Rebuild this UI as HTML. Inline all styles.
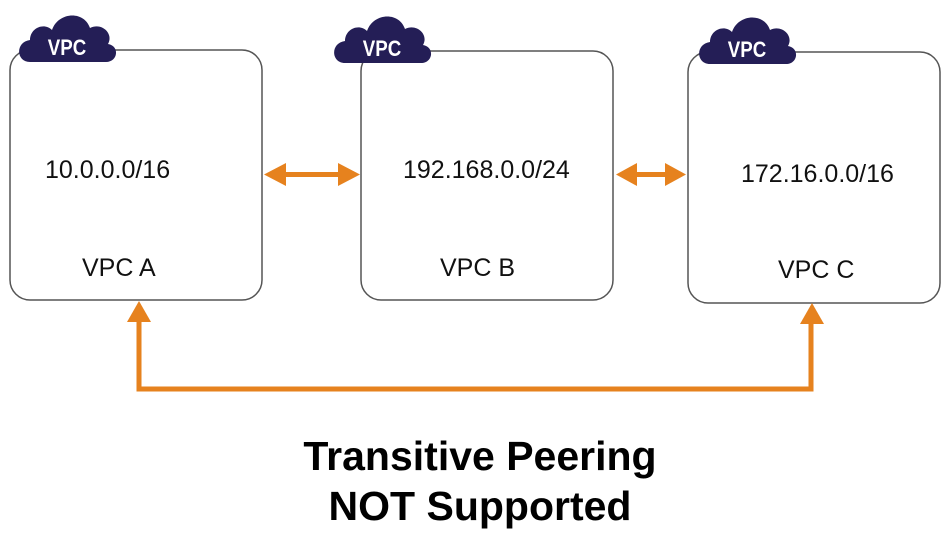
<!DOCTYPE html>
<html><head><meta charset="utf-8"><style>
html,body{margin:0;padding:0;background:#fff;}
svg{display:block;}
text{font-family:"Liberation Sans",Arial,sans-serif;}
</style></head><body>
<svg width="951" height="537" viewBox="0 0 951 537" xmlns="http://www.w3.org/2000/svg">
<defs>
<g id="cloud">
<path d="M12,50 C-2,50 -3,30 12,28 C12,16 26,10 34,18 C40,0 66,-2 72,16 C84,10 96,22 90,32 C102,34 100,50 88,50 Z" fill="#241e56"/>
</g>
</defs>
<rect x="10" y="50" width="252" height="250" rx="20" fill="#fff" stroke="#555" stroke-width="1.5"/>
<rect x="361" y="51" width="252" height="249" rx="20" fill="#fff" stroke="#555" stroke-width="1.5"/>
<rect x="688" y="52" width="252" height="251" rx="20" fill="#fff" stroke="#555" stroke-width="1.5"/>

<use href="#cloud" x="18" y="12"/>
<use href="#cloud" x="333" y="13"/>
<use href="#cloud" x="698" y="14"/>
<g fill="#fff" font-weight="bold" font-size="22" text-anchor="middle">
<text x="67" y="55" transform="translate(67,55) scale(0.85,1) translate(-67,-55)">VPC</text>
<text x="382" y="56" transform="translate(382,56) scale(0.85,1) translate(-382,-56)">VPC</text>
<text x="747" y="57" transform="translate(747,57) scale(0.85,1) translate(-747,-57)">VPC</text>
</g>

<g font-size="25" fill="#111">
<text x="45" y="178">10.0.0.0/16</text>
<text x="82" y="276">VPC A</text>
<text x="403" y="178">192.168.0.0/24</text>
<text x="440" y="276">VPC B</text>
<text x="741" y="182">172.16.0.0/16</text>
<text x="778" y="278">VPC C</text>
</g>

<g fill="#e6821e">
<rect x="284" y="172" width="56" height="5"/>
<polygon points="264,174.5 286,163 286,186"/>
<polygon points="360,174.5 338,163 338,186"/>
<rect x="634" y="172" width="34" height="5"/>
<polygon points="616,174.5 637,163 637,186"/>
<polygon points="686,174.5 665,163 665,186"/>
<polygon points="139,301 127,322 151,322"/>
<polygon points="812,303 800,324 824,324"/>
</g>
<polyline points="139,320 139,389 811,389 811,322" fill="none" stroke="#e6821e" stroke-width="5"/>

<text x="480" y="470" font-size="41" font-weight="bold" text-anchor="middle" fill="#000">Transitive Peering</text>
<text x="480" y="520" font-size="41" font-weight="bold" text-anchor="middle" fill="#000">NOT Supported</text>
</svg>
</body></html>
